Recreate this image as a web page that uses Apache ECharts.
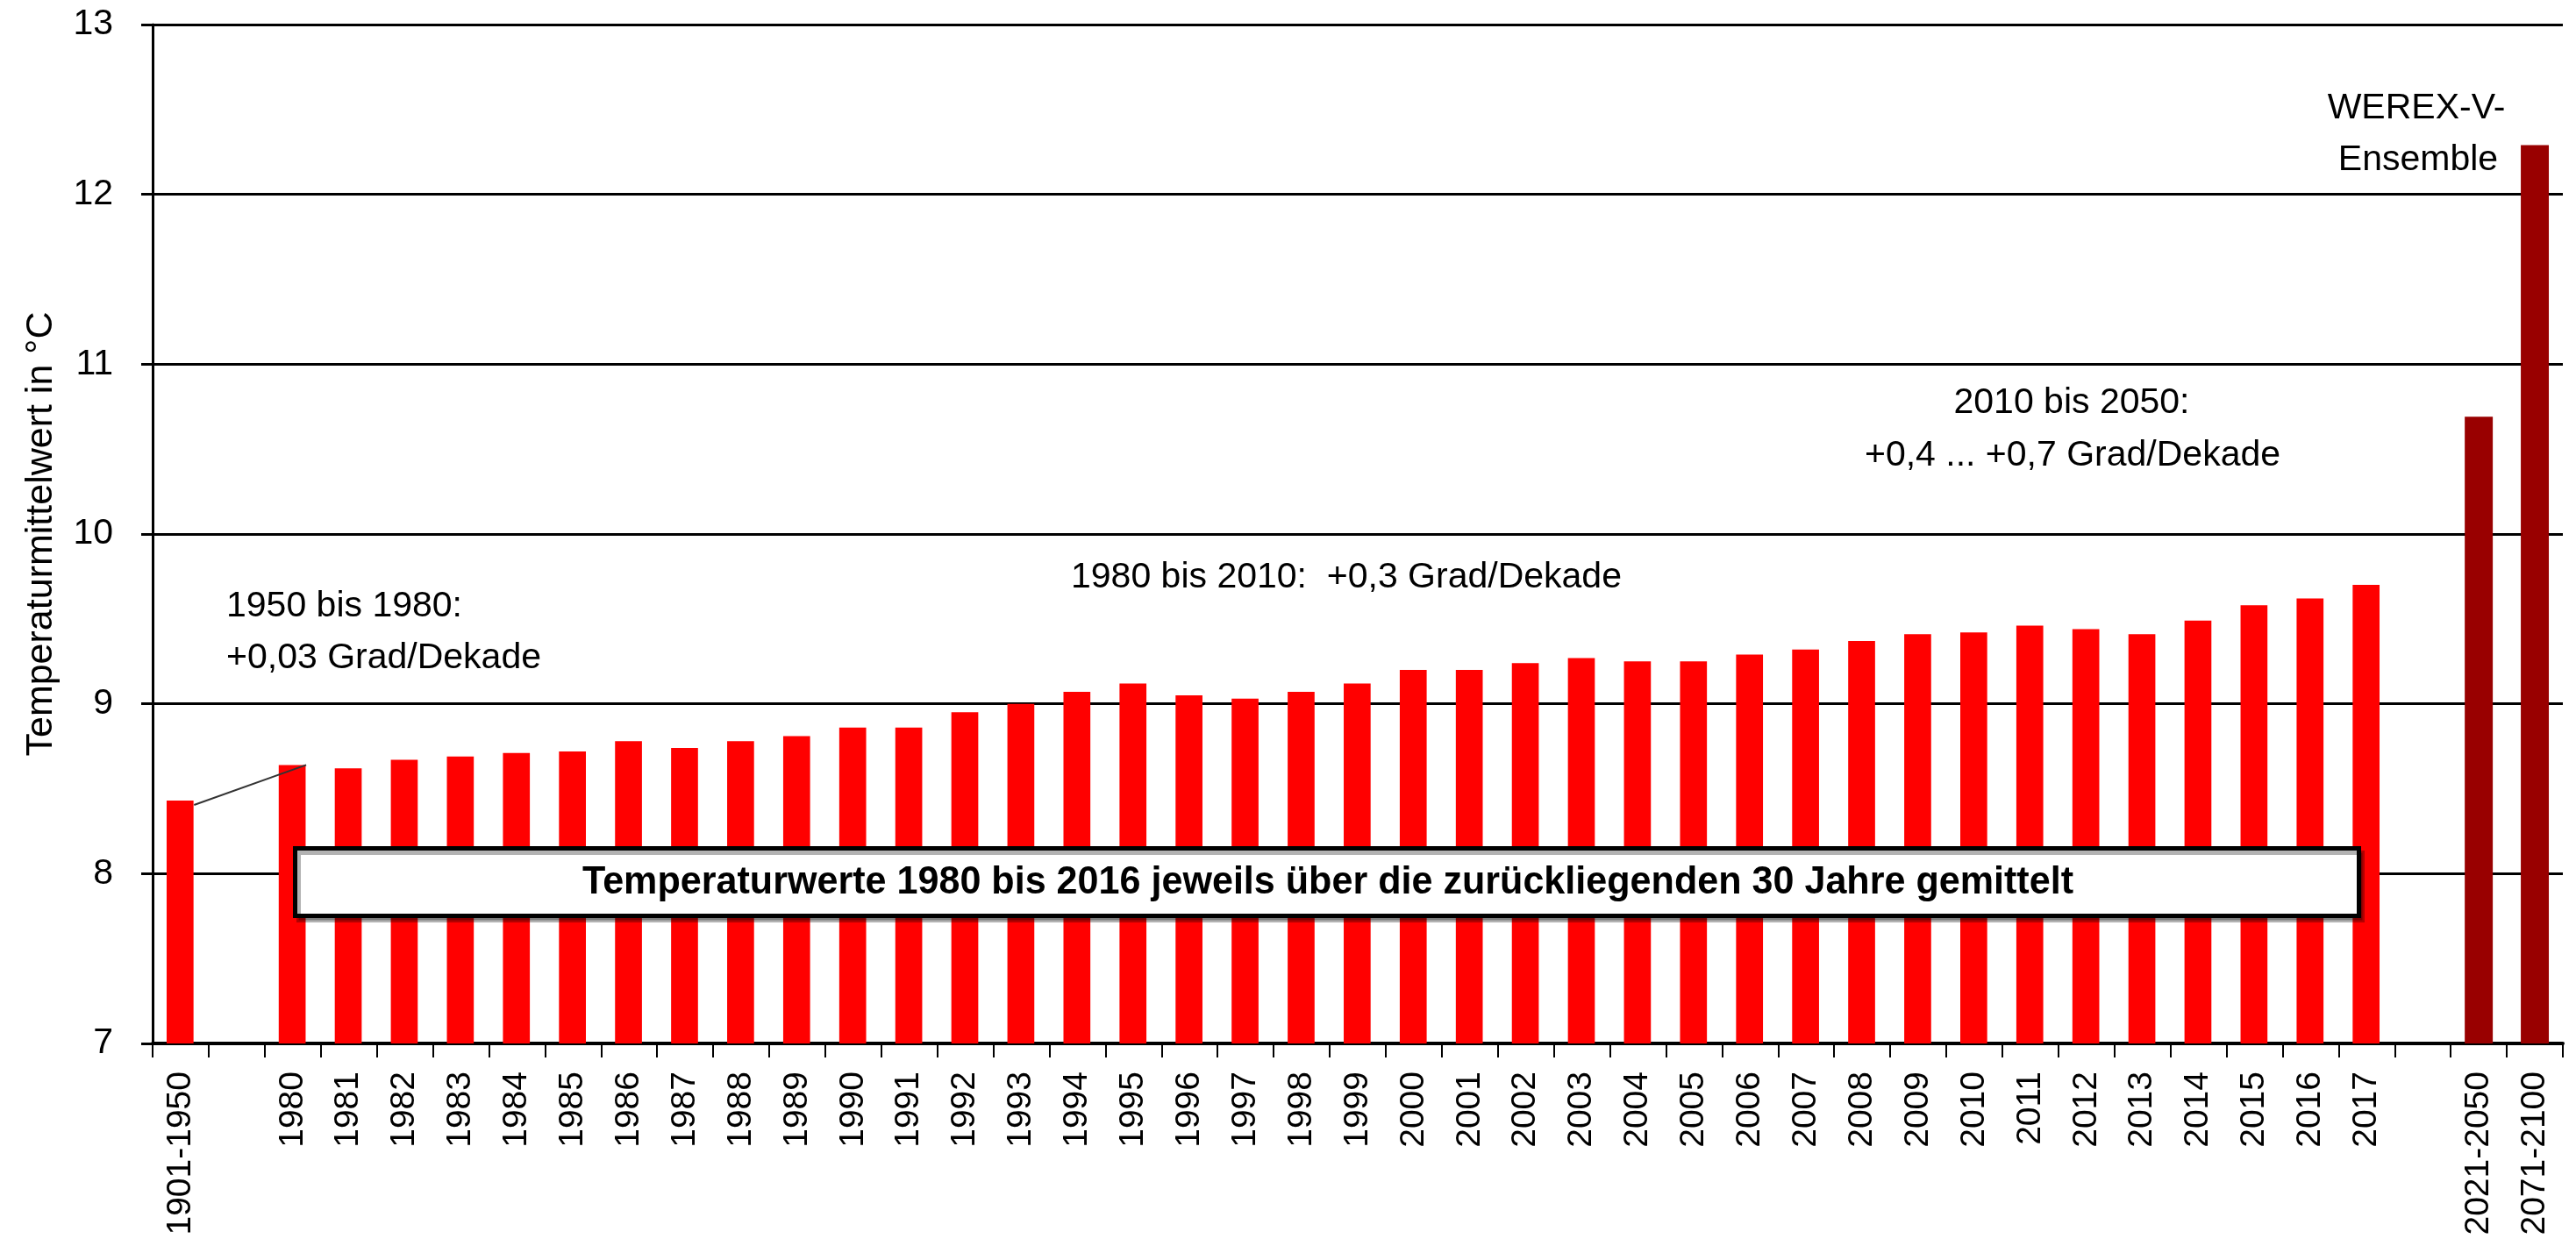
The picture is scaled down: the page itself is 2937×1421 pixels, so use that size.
<!DOCTYPE html>
<html>
<head>
<meta charset="utf-8">
<script src="https://cdn.jsdelivr.net/npm/echarts@6/dist/echarts.min.js"></script>
<style>
html,body{margin:0;padding:0;background:#fff;}
#chart{width:2937px;height:1421px;}
</style>
</head>
<body>
<div id="chart"></div>
<script>
// ---------- data ----------
const referenceLabels = ['1901-1950'];
const referenceValues = [8.43];
const yearLabels = ['1980','1981','1982','1983','1984','1985','1986','1987','1988','1989',
  '1990','1991','1992','1993','1994','1995','1996','1997','1998','1999',
  '2000','2001','2002','2003','2004','2005','2006','2007','2008','2009',
  '2010','2011','2012','2013','2014','2015','2016','2017'];
const yearValues = [8.64,8.62,8.67,8.69,8.71,8.72,8.78,8.74,8.78,8.81,
  8.86,8.86,8.95,9.00,9.07,9.12,9.05,9.03,9.07,9.12,
  9.20,9.20,9.24,9.27,9.25,9.25,9.29,9.32,9.37,9.41,
  9.42,9.46,9.44,9.41,9.49,9.58,9.62,9.70];
const scenarioLabels = ['2021-2050','2071-2100'];
const scenarioValues = [10.69, 12.29];
const yTicks = [7, 8, 9, 10, 11, 12, 13];
const yAxisTitle = 'Temperaturmittelwert in °C';
const note1 = ['1950 bis 1980:', '+0,03 Grad/Dekade'];
const note2 = '1980 bis 2010:  +0,3 Grad/Dekade';
const note3 = ['2010 bis 2050:', '+0,4 ... +0,7 Grad/Dekade'];
const note4 = ['WEREX-V-', 'Ensemble'];
const boxText = 'Temperaturwerte 1980 bis 2016 jeweils über die zurückliegenden 30 Jahre gemittelt';

// ---------- build ----------
const categories = [...referenceLabels, '', ...yearLabels, '', ...scenarioLabels];
const observed = [...referenceValues, null, ...yearValues, null, null, null];
const projected = [...referenceLabels.map(() => null), null, ...yearLabels.map(() => null), null, ...scenarioValues];
const idxRef = categories.indexOf(referenceLabels[0]);
const idxFirst = categories.indexOf(yearLabels[0]);
const connector = [[idxRef, referenceValues[0], idxFirst, yearValues[0]]];

const FONT = '"Liberation Sans", Arial, sans-serif';

// measure bold text to emulate a narrow bold face
const cv = document.createElement('canvas').getContext('2d');
cv.font = 'bold 44px "Liberation Sans", Arial, sans-serif';
const boxTextScale = 1700 / cv.measureText(boxText).width;

const chart = echarts.init(document.getElementById('chart'), null, {renderer: 'canvas'});

function txt(x, y, text, align) {
  return {
    type: 'text', x: x, y: y, z: 100,
    style: {text: text, font: '41px ' + FONT, fill: '#000', align: align || 'left', verticalAlign: 'middle',
      textAlign: align || 'left', textVerticalAlign: 'middle'}
  };
}

const option = {
  animation: false,
  backgroundColor: '#ffffff',
  grid: {left: 174, right: 15, top: 28, bottom: 231, containLabel: false},
  xAxis: {
    type: 'category',
    data: categories,
    boundaryGap: true,
    axisLine: {show: true, lineStyle: {color: '#000', width: 4}},
    axisTick: {show: true, interval: 0, length: 16, lineStyle: {color: '#000', width: 2}},
    axisLabel: {interval: 0, rotate: 90, margin: 32, color: '#000', fontSize: 39, fontFamily: FONT},
    splitLine: {show: false}
  },
  yAxis: {
    type: 'value',
    min: yTicks[0], max: yTicks[yTicks.length - 1], interval: 1,
    name: yAxisTitle,
    nameLocation: 'middle',
    nameGap: 105,
    nameTextStyle: {color: '#000', fontSize: 43, fontFamily: FONT},
    axisLine: {show: true, lineStyle: {color: '#000', width: 3}},
    axisTick: {show: true, length: 13, lineStyle: {color: '#000', width: 3}},
    axisLabel: {margin: 45, color: '#000', fontSize: 41, fontFamily: FONT},
    splitLine: {show: true, lineStyle: {color: '#000', width: 3}}
  },
  series: [
    {
      name: 'Beobachtung', type: 'bar', data: observed, barWidth: '48%', barGap: '-100%',
      itemStyle: {color: '#ff0000'}, z: 2
    },
    {
      name: 'WEREX-V', type: 'bar', data: projected, barWidth: '50%', barGap: '-100%',
      itemStyle: {color: '#990000'}, z: 2
    },
    {
      type: 'custom', data: connector, z: 5, silent: true,
      encode: {x: [0, 2], y: [1, 3]},
      renderItem: function (params, api) {
        const p0 = api.coord([api.value(0), api.value(1)]);
        const p1 = api.coord([api.value(2), api.value(3)]);
        const hw = api.size([1, 0])[0] * 0.24;
        return {
          type: 'line',
          shape: {x1: p0[0] + hw, y1: p0[1] + 5, x2: p1[0] + hw, y2: p1[1]},
          style: {stroke: '#333', lineWidth: 2}
        };
      }
    }
  ],
  graphic: [
    txt(258, 692, note1[0]),
    txt(258, 751, note1[1]),
    txt(1221, 659, note2),
    txt(2362, 460, note3[0], 'center'),
    txt(2363, 520, note3[1], 'center'),
    txt(2755, 124, note4[0], 'center'),
    txt(2757, 183, note4[1], 'center'),
    {
      type: 'rect', z: 90,
      shape: {x: 336.5, y: 967.5, width: 2353, height: 77},
      style: {fill: '#fff', stroke: '#000', lineWidth: 5,
        shadowColor: 'rgba(0,0,0,0.3)', shadowOffsetX: 4, shadowOffsetY: 5, shadowBlur: 0}
    },
    {
      type: 'text', z: 95, x: 1514, y: 1007, scaleX: boxTextScale, scaleY: 1,
      style: {text: boxText, font: 'bold 44px ' + FONT, fill: '#000',
        align: 'center', verticalAlign: 'middle', textAlign: 'center', textVerticalAlign: 'middle'}
    }
  ]
};
chart.setOption(option);
</script>
</body>
</html>
